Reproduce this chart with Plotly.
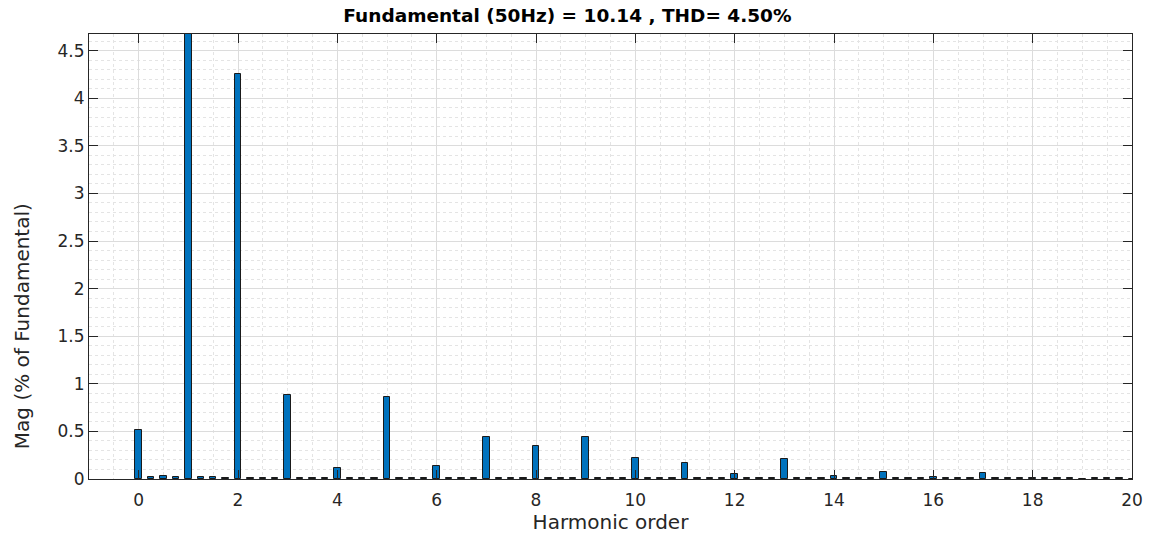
import plotly.graph_objects as go

# Harmonic orders (0.25 step) and magnitudes (% of fundamental)
orders = [i * 0.25 for i in range(0, 81)]
harmonic_values = {
    0: 0.51, 1: 100.0, 2: 4.25, 3: 0.88, 4: 0.12, 5: 0.86, 6: 0.14, 7: 0.44,
    8: 0.35, 9: 0.44, 10: 0.22, 11: 0.165, 12: 0.05, 13: 0.21, 14: 0.035,
    15: 0.07, 16: 0.02, 17: 0.06, 18: 0.008, 19: 0.005, 20: 0.005,
}
interharmonic_values = {
    0.25: 0.02, 0.5: 0.035, 0.75: 0.02, 1.25: 0.025, 1.5: 0.025, 1.75: 0.012,
}
default_small = 0.006

mags = []
for o in orders:
    if o in harmonic_values:
        mags.append(harmonic_values[o])
    elif o in interharmonic_values:
        mags.append(interharmonic_values[o])
    else:
        mags.append(default_small)

title_text = "Fundamental (50Hz) = 10.14 , THD= 4.50%"
x_title = "Harmonic order"
y_title = "Mag (% of Fundamental)"
x_ticks = list(range(0, 21, 2))
y_ticks = [0, 0.5, 1, 1.5, 2, 2.5, 3, 3.5, 4, 4.5]
y_tick_labels = ["0", "0.5", "1", "1.5", "2", "2.5", "3", "3.5", "4", "4.5"]

font_family = "DejaVu Sans, Arial, sans-serif"
axis_color = "#262626"

fig = go.Figure()
fig.add_trace(go.Bar(
    x=orders, y=mags, width=0.13,
    marker=dict(color="#0072BD", line=dict(color="#1a1a1a", width=1)),
    showlegend=False,
))

fig.update_layout(
    width=1151, height=540,
    margin=dict(l=89, r=19, t=34, b=61),
    paper_bgcolor="white", plot_bgcolor="white",
    font=dict(family=font_family, color=axis_color, size=17),
    title=dict(text="<b>" + title_text + "</b>", x=0.493, xanchor="center",
               y=0.972, yanchor="middle",
               font=dict(size=18.5, color="black", family=font_family)),
    bargap=0,
    annotations=[dict(
        text=y_title, xref="paper", yref="paper", x=-0.064, y=0.344,
        xanchor="center", yanchor="middle", textangle=-90, showarrow=False,
        font=dict(size=20, color=axis_color, family=font_family),
    )],
)
fig.update_xaxes(
    range=[-1, 20], tickvals=x_ticks, ticktext=[str(t) for t in x_ticks],
    ticks="inside", ticklen=9, tickcolor=axis_color,
    showline=True, linecolor=axis_color, linewidth=1, mirror="ticks",
    showgrid=True, gridcolor="#dcdcdc", gridwidth=1, zeroline=False,
    minor=dict(dtick=0.5, tick0=0, showgrid=True, gridcolor="#e4e4e4",
               griddash="dot", ticks=""),
    title=dict(text=x_title, font=dict(size=20, color=axis_color), standoff=5),
    tickfont=dict(size=17, color=axis_color),
    ticklabelstandoff=6,
    automargin=False,
)
fig.update_yaxes(
    range=[0, 4.675], tickvals=y_ticks, ticktext=y_tick_labels,
    ticks="inside", ticklen=9, tickcolor=axis_color,
    showline=True, linecolor=axis_color, linewidth=1, mirror="ticks",
    showgrid=True, gridcolor="#dcdcdc", gridwidth=1, zeroline=False,
    minor=dict(dtick=0.1, tick0=0, showgrid=True, gridcolor="#e4e4e4",
               griddash="dot", ticks=""),
    tickfont=dict(size=17, color=axis_color),
    automargin=False,
)

fig.write_html("out.html", config={"displayModeBar": False},
               post_script="document.body.style.margin='0';")
